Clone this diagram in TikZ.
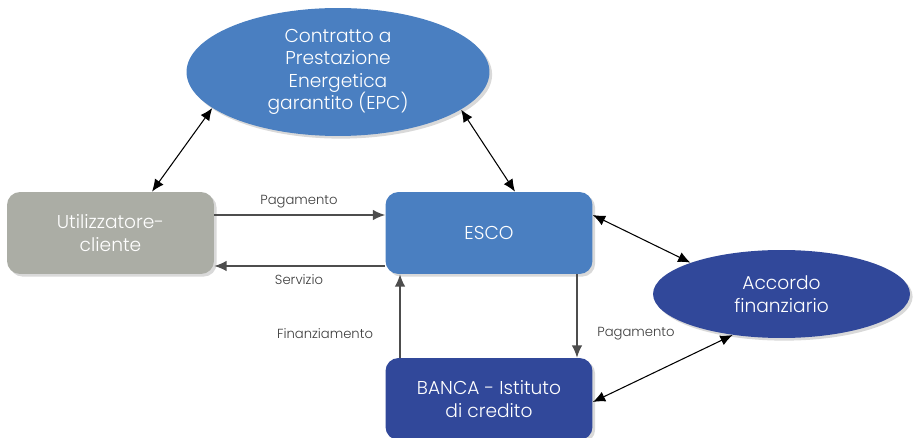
\documentclass[tikz,border=0pt]{standalone}
\usepackage{fontspec}
\setmainfont{Poppins}[UprightFont=* Light]
\usetikzlibrary{arrows.meta,shapes.geometric,shadows}

\definecolor{escoblue}{HTML}{4A7FC1}
\definecolor{bankblue}{HTML}{31489A}
\definecolor{clientgray}{HTML}{ABADA5}
\definecolor{linegray}{HTML}{4D4D4D}
\definecolor{labelgray}{HTML}{3C3C3C}

\begin{document}
\begin{tikzpicture}[x=0.02cm,y=-0.02cm,
  box/.style={rectangle,rounded corners=0.26cm,minimum width=4.14cm,minimum height=1.64cm,
    inner sep=0pt,text=white,align=center,font=\fontsize{10.6}{13}\selectfont,
    drop shadow={shadow xshift=1.5pt,shadow yshift=-1.5pt,opacity=0.3}},
  oval/.style={ellipse,inner sep=0pt,text=white,align=center,font=\fontsize{10.6}{12.8}\selectfont,
    drop shadow={shadow xshift=1.5pt,shadow yshift=-1.5pt,opacity=0.3}},
  lbl/.style={text=labelgray,font=\fontsize{7.5}{9}\selectfont,inner sep=0pt},
  link/.style={{Latex[length=7pt,width=6pt]}-{Latex[length=7pt,width=6pt]},line width=0.6pt,black},
  flow/.style={-{Latex[length=7pt,width=6pt]},line width=0.8pt,linegray}]

\useasboundingbox (0,0) rectangle (918,438);

%the contract and the financing agreement
\node[oval,fill=escoblue,minimum width=6.06cm,minimum height=2.56cm] (contratto) at (338,72)
  {Contratto a\\Prestazione\\Energetica\\garantito (EPC)};
\node[oval,fill=bankblue,minimum width=5.14cm,minimum height=1.76cm] (accordo) at (781.5,294)
  {Accordo\\finanziario};

%the three parties
\node[box,fill=clientgray] (util) at (110.5,233) {Utilizzatore-\\cliente};
\node[box,fill=escoblue] (esco) at (489,233) {ESCO};
\node[box,fill=bankblue,minimum height=1.64cm] (banca) at (489,399) {BANCA - Istituto\\di credito};

%double arrows
\draw[link] ([xshift=0.83cm]util.north) -- (contratto.196);
\draw[link] ([xshift=0.52cm]esco.north) -- (contratto.343);
\draw[link] ([yshift=0.36cm]esco.east) -- (accordo.161);
\draw[link] ([yshift=-0.06cm]banca.east) -- (accordo.220);

%money and service flows
\draw[flow] ([yshift=0.36cm]util.east) -- ([yshift=0.36cm]esco.west);
\draw[flow] ([yshift=-0.66cm]esco.west) -- ([yshift=-0.66cm]util.east);
\draw[flow] ([xshift=-1.78cm]banca.north) -- ([xshift=-1.78cm]esco.south);
\draw[flow] ([xshift=1.76cm]esco.south) -- ([xshift=1.76cm]banca.north);

%labels
\node[lbl] (paglbl) at (299,202) {Pagamento};
\node[lbl] (servlbl) at (299,280) {Servizio};
\node[lbl] (finlbl) at (325,334) {Finanziamento};
\node[lbl] (pagbanca) at (636,334) {Pagamento};

\end{tikzpicture}
\end{document}
